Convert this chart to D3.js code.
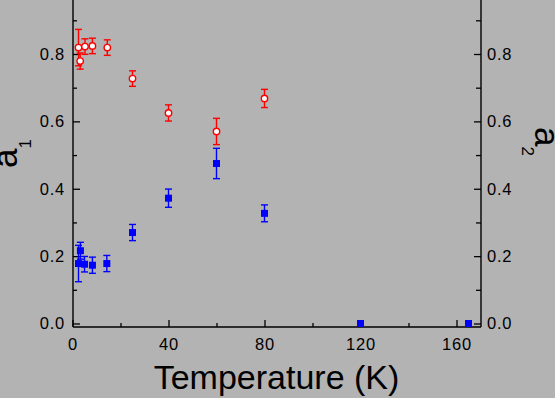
<!DOCTYPE html>
<html>
<head>
<meta charset="utf-8">
<script src="https://cdn.jsdelivr.net/npm/d3@7"></script>
<style>
  body { margin: 0; background: #b3b3b3; }
  text { font-family: "Liberation Sans", Arial, sans-serif; fill: #000; }
</style>
</head>
<body>
<script>
// open red circles
const circleTemps = [2.5, 3.2, 5.2, 8.3, 14.5, 25, 40, 60, 80];
const circleVals  = [0.819, 0.779, 0.822, 0.824, 0.819, 0.727, 0.625, 0.570, 0.668];
const circleErrs  = [0.054, 0.024, 0.023, 0.023, 0.023, 0.023, 0.024, 0.039, 0.027];

// filled blue squares
const squareTemps = [2.5, 3.3, 5, 8.3, 14.3, 25, 40, 60, 80, 120, 165];
const squareVals  = [0.178, 0.216, 0.176, 0.173, 0.178, 0.270, 0.372, 0.475, 0.327, 0, 0];
const squareErrs  = [0.054, 0.025, 0.023, 0.024, 0.024, 0.024, 0.027, 0.045, 0.025, 0, 0];

const xMajor = [0, 40, 80, 120, 160];
const xMinor = [20, 60, 100, 140];
const yMajor = [0, 0.2, 0.4, 0.6, 0.8];
const yMinor = [0.1, 0.3, 0.5, 0.7, 0.9];

const width = 555, height = 398;
const left = 73, right = 481, bottom = 327;

const svg = d3.select("body").append("svg")
  .attr("width", width)
  .attr("height", height);

svg.append("rect").attr("width", width).attr("height", height).attr("fill", "#b3b3b3");

const x = d3.scaleLinear().domain([0, 170]).range([72.5, 480.5]);
const y = d3.scaleLinear().domain([0, 0.8]).range([323.5, 54]);

// axes
function styleAxis(g) {
  g.select(".domain").remove();
  g.selectAll(".tick line").attr("stroke", "#000").attr("stroke-width", 1.3);
  g.selectAll(".tick text")
    .style("font-size", "16.5px")
    .style("letter-spacing", "0.8px")
    .style("font-family", "'Liberation Sans', Arial, sans-serif");
}

svg.append("g")
  .attr("transform", `translate(0,${bottom})`)
  .call(d3.axisBottom(x).tickValues(xMajor).tickSizeInner(-7).tickSizeOuter(0).tickPadding(11).tickFormat(d3.format("d")))
  .call(styleAxis);
svg.append("g")
  .attr("transform", `translate(0,${bottom})`)
  .call(d3.axisBottom(x).tickValues(xMinor).tickSizeInner(-4).tickSizeOuter(0).tickFormat(""))
  .call(styleAxis);

svg.append("g")
  .attr("transform", `translate(${left},0)`)
  .call(d3.axisLeft(y).tickValues(yMajor).tickSizeInner(-7).tickSizeOuter(0).tickPadding(8).tickFormat(d3.format(".1f")))
  .call(styleAxis);
svg.append("g")
  .attr("transform", `translate(${left},0)`)
  .call(d3.axisLeft(y).tickValues(yMinor).tickSizeInner(-4).tickSizeOuter(0).tickFormat(""))
  .call(styleAxis);

svg.append("g")
  .attr("transform", `translate(${right},0)`)
  .call(d3.axisRight(y).tickValues(yMajor).tickSizeInner(-7).tickSizeOuter(0).tickPadding(6).tickFormat(d3.format(".1f")))
  .call(styleAxis);
svg.append("g")
  .attr("transform", `translate(${right},0)`)
  .call(d3.axisRight(y).tickValues(yMinor).tickSizeInner(-5).tickSizeOuter(0).tickFormat(""))
  .call(styleAxis);

// axis lines
svg.append("line").attr("x1", left).attr("x2", left).attr("y1", 0).attr("y2", bottom)
  .attr("stroke", "#000").attr("stroke-width", 1.4);
svg.append("line").attr("x1", right).attr("x2", right).attr("y1", 0).attr("y2", bottom)
  .attr("stroke", "#000").attr("stroke-width", 1.4);
svg.append("line").attr("x1", left).attr("x2", right).attr("y1", bottom).attr("y2", bottom)
  .attr("stroke", "#000").attr("stroke-width", 1.4);

// error bars
function errorBars(temps, vals, errs, color) {
  const data = temps.map((t, i) => ({ t, v: vals[i], e: errs[i] })).filter(d => d.e > 0);
  const g = svg.append("g").attr("stroke", color).attr("stroke-width", 1.4);
  g.selectAll(".stem").data(data).enter().append("line")
    .attr("x1", d => x(d.t)).attr("x2", d => x(d.t))
    .attr("y1", d => y(d.v - d.e)).attr("y2", d => y(d.v + d.e));
  g.selectAll(".capTop").data(data).enter().append("line")
    .attr("x1", d => x(d.t) - 3.5).attr("x2", d => x(d.t) + 3.5)
    .attr("y1", d => y(d.v + d.e)).attr("y2", d => y(d.v + d.e));
  g.selectAll(".capBot").data(data).enter().append("line")
    .attr("x1", d => x(d.t) - 3.5).attr("x2", d => x(d.t) + 3.5)
    .attr("y1", d => y(d.v - d.e)).attr("y2", d => y(d.v - d.e));
}

errorBars(squareTemps, squareVals, squareErrs, "#0000ff");
svg.append("g").selectAll("rect")
  .data(squareTemps.map((t, i) => ({ t, v: squareVals[i] })))
  .enter().append("rect")
  .attr("x", d => x(d.t) - 3.5)
  .attr("y", d => y(d.v) - 3.5)
  .attr("width", 7)
  .attr("height", 7)
  .attr("fill", "#0000ff");

errorBars(circleTemps, circleVals, circleErrs, "#ff0000");
svg.append("g").selectAll("circle")
  .data(circleTemps.map((t, i) => ({ t, v: circleVals[i] })))
  .enter().append("circle")
  .attr("cx", d => x(d.t))
  .attr("cy", d => y(d.v))
  .attr("r", 3.2)
  .attr("fill", "#fff")
  .attr("stroke", "#ff0000")
  .attr("stroke-width", 1.4);

// titles
svg.append("text")
  .attr("x", 276.5)
  .attr("y", 389)
  .attr("text-anchor", "middle")
  .style("font-size", "34px")
  .text("Temperature (K)");

const a1 = svg.append("text")
  .attr("transform", "translate(17,168) rotate(-90)")
  .style("font-size", "35px");
a1.append("tspan").text("a");
a1.append("tspan").attr("dy", 14).style("font-size", "17px").text("1");

const a2 = svg.append("text")
  .attr("transform", "translate(535,127) rotate(90)")
  .style("font-size", "35px");
a2.append("tspan").text("a");
a2.append("tspan").attr("dy", 13).style("font-size", "17px").text("2");
</script>
</body>
</html>
